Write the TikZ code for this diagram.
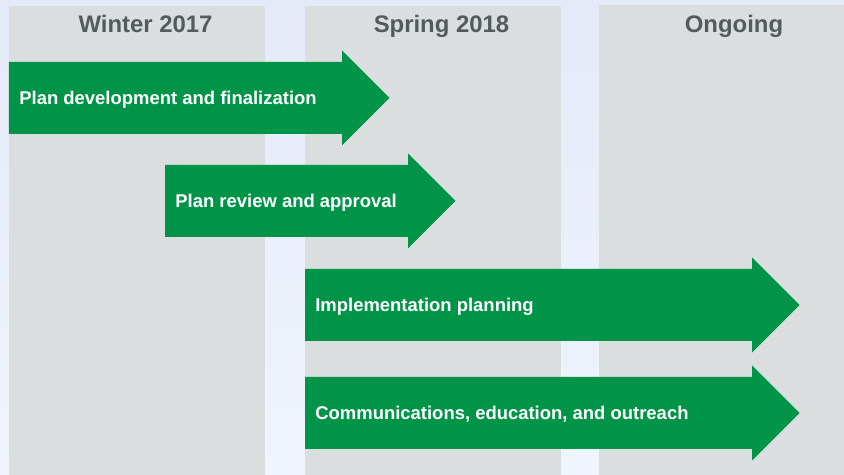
\documentclass[tikz,border=0pt]{standalone}
\usepackage{fontspec}
\setmainfont{Liberation Sans}
\usetikzlibrary{positioning}
\definecolor{bgtop}{RGB}{228,234,248}
\definecolor{bgbottom}{RGB}{239,244,253}
\definecolor{colgray}{RGB}{218,222,223}
\definecolor{headgray}{RGB}{84,91,92}
\definecolor{plangreen}{RGB}{0,148,73}
\tikzset{
  phasehead/.style={font=\fontsize{13.6}{16}\selectfont\bfseries, text=headgray, anchor=base, inner sep=0pt},
  tasklabel/.style={font=\fontsize{10.5}{12}\selectfont\bfseries, text=white, anchor=base west, inner sep=0pt}
}
\begin{document}
\begin{tikzpicture}
  % Background
  \useasboundingbox (0,0) rectangle (16.88,9.5);
  \shade[top color=bgtop, bottom color=bgbottom] (0,0) rectangle (16.88,9.5);
  % Phase columns
  \fill[colgray] (0.18,0) rectangle (5.30,9.38);
  \fill[colgray] (6.10,0) rectangle (11.22,9.38);
  \fill[colgray] (11.98,0) rectangle (16.88,9.40);
  % Column headers
  \node[phasehead] (winter) at (2.91,8.84) {Winter 2017};
  \node[phasehead] (spring) at (8.83,8.84) {Spring 2018};
  \node[phasehead] (ongoing) at (14.68,8.84) {Ongoing};
  % Task arrows
  \foreach \x/\xe/\y/\txt/\nm in {0.18/6.84/7.54/{Plan development and finalization}/develop,
      3.30/8.16/5.48/{Plan review and approval}/review,
      6.10/15.04/3.40/{Implementation planning}/implement,
      6.10/15.04/1.24/{Communications, education, and outreach}/outreach} {
    \fill[plangreen] (\x,\y-0.72) -- (\xe,\y-0.72) -- (\xe,\y-0.95) -- (\xe+0.95,\y)
      -- (\xe,\y+0.95) -- (\xe,\y+0.72) -- (\x,\y+0.72) -- cycle;
    \node[tasklabel] (\nm) at (\x+0.2,\y-0.14) {\txt};
  }
\end{tikzpicture}
\end{document}
